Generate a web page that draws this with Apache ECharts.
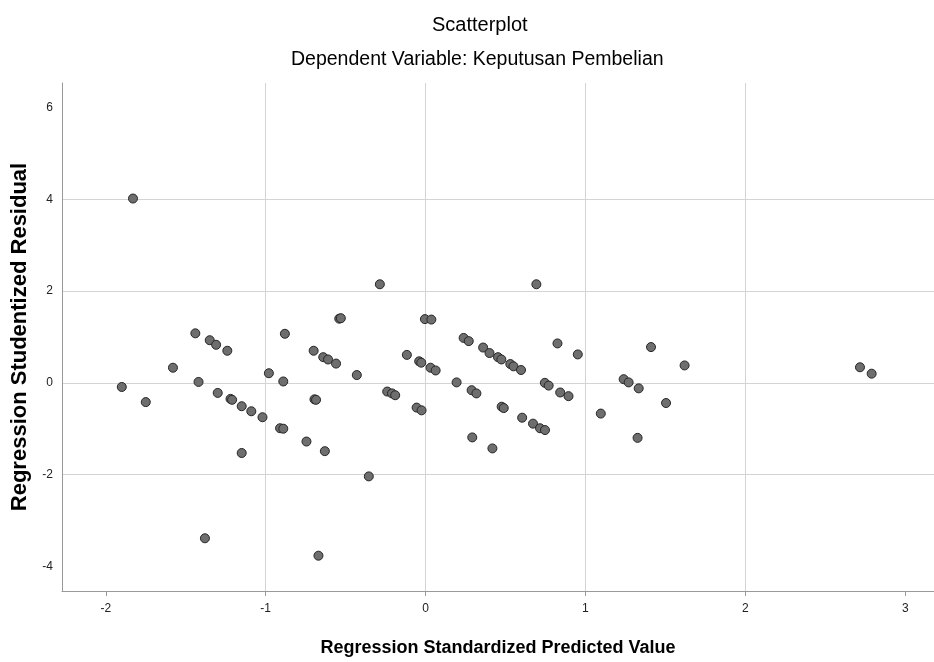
<!DOCTYPE html>
<html>
<head>
<meta charset="utf-8">
<script src="https://cdn.jsdelivr.net/npm/echarts@6/dist/echarts.min.js"></script>
<style>
  html, body { margin: 0; padding: 0; background: #fff; }
  #main { width: 934px; height: 662px; }
</style>
</head>
<body>
<div id="main"></div>
<script>
// values
var predicted = [
    -1.90, -1.83, -1.75, -1.58, -1.44, -1.42, -1.38, -1.35, -1.31, -1.30,
    -1.24, -1.22, -1.21, -1.15, -1.15, -1.09, -1.02, -0.98, -0.91, -0.89,
    -0.89, -0.88, -0.745, -0.70, -0.695, -0.685, -0.67, -0.64, -0.63, -0.61,
    -0.56, -0.54, -0.53, -0.43, -0.355, -0.286, -0.24, -0.21, -0.19, -0.117,
    -0.056, -0.04, -0.027, -0.025, -0.004, 0.036, 0.031, 0.063, 0.194, 0.238,
    0.27, 0.288, 0.292, 0.318, 0.36, 0.40, 0.418, 0.453, 0.474, 0.476,
    0.489, 0.53, 0.55, 0.597, 0.604, 0.672, 0.693, 0.716, 0.746, 0.747,
    0.77, 0.825, 0.842, 0.894, 0.952, 1.096, 1.239, 1.27, 1.326, 1.333,
    1.41, 1.504, 1.62, 2.717, 2.79
];
var residual = [
    -0.09, 4.02, -0.42, 0.33, 1.08, 0.02, -3.39, 0.93, 0.83, -0.22,
    0.70, -0.35, -0.37, -0.51, -1.53, -0.62, -0.75, 0.21, -0.99, -1.00,
    0.03, 1.07, -1.28, 0.70, -0.36, -0.37, -3.77, 0.56, -1.49, 0.51,
    0.42, 1.40, 1.41, 0.17, -2.04, 2.15, -0.19, -0.23, -0.27, 0.61,
    -0.54, 0.47, 0.44, -0.60, 1.39, 1.38, 0.33, 0.27, 0.01, 0.98,
    0.91, -0.16, -1.19, -0.23, 0.77, 0.65, -1.43, 0.56, 0.51, -0.52,
    -0.55, 0.41, 0.36, 0.28, -0.76, -0.89, 2.15, -0.99, 0.00, -1.03,
    -0.06, 0.86, -0.21, -0.29, 0.62, -0.67, 0.08, 0.01, -1.20, -0.12,
    0.78, -0.44, 0.38, 0.34, 0.20
];
var xTicks = [-2, -1, 0, 1, 2, 3];
var yTicks = [-4, -2, 0, 2, 4, 6];

var points = predicted.map(function (x, i) {
    return [x, residual[i]];
});

var font = "'Liberation Sans', Arial, sans-serif";

var dom = document.getElementById('main');
var myChart = echarts.init(dom);

myChart.setOption({
    animation: false,
    backgroundColor: '#fff',
    title: [{
        text: 'Scatterplot',
        left: 427,
        top: 10,
        textStyle: { fontFamily: font, fontSize: 20, fontWeight: 'normal', color: '#000' }
    }, {
        text: 'Dependent Variable: Keputusan Pembelian',
        left: 286,
        top: 45,
        textStyle: { fontFamily: font, fontSize: 19.5, fontWeight: 'normal', color: '#000' }
    }],
    grid: {
        left: 62,
        right: 0,
        top: 83,
        bottom: 69
    },
    xAxis: {
        type: 'value',
        min: -2.274,
        max: 3.18,
        name: 'Regression Standardized Predicted Value',
        nameLocation: 'middle',
        nameGap: 48,
        nameTextStyle: { fontFamily: font, fontSize: 18, fontWeight: 'bold', color: '#000' },
        axisLine: { show: true, onZero: false, lineStyle: { color: '#999', width: 1 } },
        axisTick: { show: true, length: 5, customValues: xTicks, lineStyle: { color: '#999' } },
        axisLabel: {
            customValues: xTicks,
            margin: 12,
            fontFamily: font,
            fontSize: 12,
            color: '#222'
        },
        splitLine: {
            show: true,
            showMinLine: false,
            showMaxLine: false,
            lineStyle: { color: '#d4d4d4', width: 1 }
        }
    },
    yAxis: {
        type: 'value',
        min: -4.54,
        max: 6.54,
        name: 'Regression Studentized Residual',
        nameLocation: 'middle',
        nameGap: 30,
        nameTextStyle: { fontFamily: font, fontSize: 22, fontWeight: 'bold', color: '#000' },
        axisLine: { show: true, onZero: false, lineStyle: { color: '#999', width: 1 } },
        axisTick: { show: false, customValues: yTicks },
        axisLabel: {
            customValues: yTicks,
            margin: 9,
            fontFamily: font,
            fontSize: 12,
            color: '#222'
        },
        splitLine: {
            show: true,
            showMinLine: false,
            showMaxLine: false,
            lineStyle: { color: '#d4d4d4', width: 1 }
        }
    },
    series: [{
        type: 'scatter',
        data: points,
        symbol: 'circle',
        symbolSize: 9,
        itemStyle: {
            color: '#6e6e6e',
            borderColor: '#262626',
            borderWidth: 1,
            opacity: 1
        }
    }]
});

window.onresize = function () {
    myChart.resize();
};
</script>
</body>
</html>
